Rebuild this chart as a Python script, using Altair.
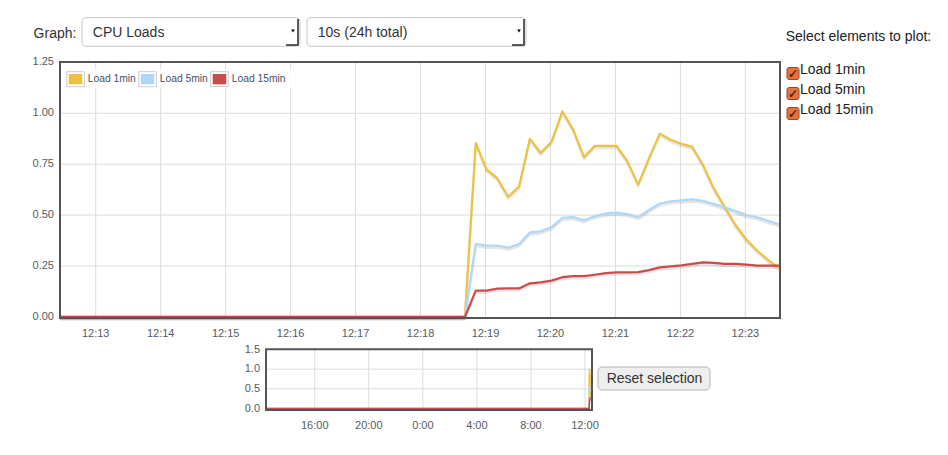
import altair as alt
import pandas as pd

# ---------------- data ----------------
series_names = ["Load 1min", "Load 5min", "Load 15min"]
series_colors = ["#edc240", "#afd8f8", "#cb4b4b"]

# sample times: seconds since local midnight, one sample every 10 s
active_start = 44321          # 12:18:41 (last idle sample)
sample_step = 10
history_start = 44611 - 86400  # start of the 24 h window (idle, all zero)

load_1min = [0, 0.854, 0.725, 0.68, 0.59, 0.64, 0.875, 0.805, 0.86, 1.01,
             0.92, 0.785, 0.84, 0.84, 0.84, 0.765, 0.65, 0.78, 0.90, 0.87,
             0.85, 0.835, 0.745, 0.63, 0.54, 0.45, 0.38, 0.325, 0.28, 0.24]
load_5min = [0, 0.358, 0.35, 0.35, 0.34, 0.358, 0.415, 0.42, 0.44, 0.487,
             0.49, 0.475, 0.495, 0.508, 0.512, 0.505, 0.49, 0.525, 0.557, 0.568,
             0.572, 0.577, 0.57, 0.554, 0.538, 0.52, 0.50, 0.489, 0.472, 0.455]
load_15min = [0, 0.129, 0.129, 0.139, 0.14, 0.14, 0.165, 0.17, 0.178, 0.195,
              0.20, 0.20, 0.207, 0.215, 0.219, 0.219, 0.22, 0.23, 0.243, 0.248,
              0.253, 0.26, 0.268, 0.265, 0.26, 0.26, 0.257, 0.252, 0.252, 0.252]

main_tick_seconds = [43980, 44040, 44100, 44160, 44220, 44280,
                     44340, 44400, 44460, 44520, 44580]
main_tick_labels = ["12:13", "12:14", "12:15", "12:16", "12:17", "12:18",
                    "12:19", "12:20", "12:21", "12:22", "12:23"]
main_y_ticks = [0, 0.25, 0.5, 0.75, 1.0, 1.25]
main_y_labels = ["0.00", "0.25", "0.50", "0.75", "1.00", "1.25"]

ov_tick_seconds = [-28800, -14400, 0, 14400, 28800, 43200]
ov_tick_labels = ["16:00", "20:00", "0:00", "4:00", "8:00", "12:00"]
ov_y_ticks = [0, 0.5, 1.0, 1.5]
ov_y_labels = ["0.0", "0.5", "1.0", "1.5"]

# ---------------- tables ----------------
rows = []
for name, vals in zip(series_names, [load_1min, load_5min, load_15min]):
    rows.append({"series": name, "t": history_start, "v": 0})
    for i, v in enumerate(vals):
        rows.append({"series": name, "t": active_start + sample_step * i, "v": v})
df = pd.DataFrame(rows)

main_xt = pd.DataFrame({"t": main_tick_seconds, "label": main_tick_labels})
main_yt = pd.DataFrame({"v": main_y_ticks, "label": main_y_labels})
ov_xt = pd.DataFrame({"t": ov_tick_seconds, "label": ov_tick_labels})
ov_yt = pd.DataFrame({"v": ov_y_ticks, "label": ov_y_labels})
one = pd.DataFrame({"k": [0]})

FONT = "Liberation Sans"
GRID = "#dcdcdc"
FRAME = "#545454"
TICK = "#555a63"

# ---------------- scales (pixel ranges on one canvas) ----------------
main_x = alt.Scale(domain=[43947, 44612], range=[52, 772], clamp=True, nice=False, zero=False)
main_y = alt.Scale(domain=[0, 1.25], range=[308.9, 54.4], nice=False, zero=False)
ov_x = alt.Scale(domain=[history_start, 44611], range=[258, 582.3], clamp=True, nice=False, zero=False)
ov_y = alt.Scale(domain=[0, 1.5], range=[400.5, 341.5], nice=False, zero=False)


def box(x, x2, y, y2, **kw):
    return alt.Chart(one).mark_rect(**kw).encode(
        x=alt.value(x), x2=alt.value(x2), y=alt.value(y), y2=alt.value(y2))


def label(text, x, y, size=14, color="#333333", align="left", **kw):
    return alt.Chart(one).mark_text(
        text=text, align=align, baseline="middle", font=FONT, fontSize=size,
        color=color, **kw).encode(x=alt.value(x), y=alt.value(y))


def rule(x, x2, y, y2, color, width=1):
    return alt.Chart(one).mark_rule(color=color, strokeWidth=width).encode(
        x=alt.value(x), x2=alt.value(x2), y=alt.value(y), y2=alt.value(y2))


layers = []

# ---------- header controls ----------
layers.append(label("Graph:", 25.6, 25.5))
for bx, bx2, txt in [(74, 292, "CPU Loads"), (299, 518, "10s (24h total)")]:
    layers.append(box(bx, bx2, 9.6, 38.3, fill="white", stroke="#c6c6c6",
                      strokeWidth=1, cornerRadius=4))
    layers.append(label(txt, bx + 10.8, 25.0))
    layers.append(rule(bx2 - 2, bx2 - 2, 11, 37.5, "#5a5a5a", 2))
    layers.append(rule(bx2 - 14, bx2 - 1, 37, 37, "#5a5a5a", 2))
    layers.append(alt.Chart(one).mark_point(shape="triangle-down", filled=True,
                                            size=14, color="black", opacity=1).encode(
        x=alt.value(bx2 - 7), y=alt.value(23)))

# ---------- right panel ----------
layers.append(label("Select elements to plot:", 777.7, 28.7, color="#222222"))
for i, name in enumerate(series_names):
    cy = 65.5 + 20 * i
    layers.append(box(779, 791, cy - 6, cy + 6, fill="#e4733f", stroke="#9b4527",
                      strokeWidth=1, cornerRadius=2))
    layers.append(label("✓", 785, cy, size=12, color="#5c1d08", align="center",
                        fontWeight="bold"))
    layers.append(label(name, 792, 62 + 20 * i, color="#222222"))

# ---------- main plot ----------
layers.append(alt.Chart(main_xt).mark_rule(color=GRID, strokeWidth=1).encode(
    x=alt.X("t:Q", scale=main_x, axis=None), y=alt.value(54), y2=alt.value(310)))
layers.append(alt.Chart(main_yt).transform_filter("datum.v > 0 && datum.v < 1.25").mark_rule(
    color=GRID, strokeWidth=1).encode(
    y=alt.Y("v:Q", scale=main_y, axis=None), x=alt.value(52), x2=alt.value(772)))

for name, col in zip(series_names, series_colors):
    sub = alt.Chart(df).transform_filter(alt.datum.series == name)
    layers.append(sub.mark_line(color="black", opacity=0.1, strokeWidth=2.5, yOffset=2,
                                strokeJoin="round").encode(
        x=alt.X("t:Q", scale=main_x, axis=None), y=alt.Y("v:Q", scale=main_y, axis=None)))
for name, col in zip(series_names, series_colors):
    sub = alt.Chart(df).transform_filter(alt.datum.series == name)
    layers.append(sub.mark_line(color=col, strokeWidth=2.2, strokeJoin="round").encode(
        x=alt.X("t:Q", scale=main_x, axis=None), y=alt.Y("v:Q", scale=main_y, axis=None)))

layers.append(box(52, 772, 54, 310, filled=False, fill=None, stroke=FRAME, strokeWidth=2))

layers.append(alt.Chart(main_yt).mark_text(align="right", baseline="middle", font=FONT,
                                           fontSize=11, color=TICK).encode(
    y=alt.Y("v:Q", scale=main_y, axis=None), x=alt.value(46), text="label:N"))
layers.append(alt.Chart(main_xt).mark_text(align="center", baseline="middle", font=FONT,
                                           fontSize=11, color=TICK).encode(
    x=alt.X("t:Q", scale=main_x, axis=None), y=alt.value(326), text="label:N"))

# legend inside main plot
layers.append(box(56, 285, 61, 80, fill="white", opacity=0.85))
for name, col, ox in zip(series_names, series_colors, [58.7, 130.7, 202.7]):
    layers.append(box(ox, ox + 17.6, 63.7, 78.7, fill="white", stroke="#cccccc", strokeWidth=1))
    layers.append(box(ox + 2, ox + 15.6, 66, 76.3, fill=col))
    layers.append(label(name, ox + 21, 71, size=10.3, color="#43506a"))

# ---------- overview plot ----------
layers.append(alt.Chart(ov_xt).mark_rule(color=GRID, strokeWidth=1).encode(
    x=alt.X("t:Q", scale=ov_x, axis=None), y=alt.value(341), y2=alt.value(402)))
layers.append(alt.Chart(ov_yt).transform_filter("datum.v > 0 && datum.v < 1.5").mark_rule(
    color=GRID, strokeWidth=1).encode(
    y=alt.Y("v:Q", scale=ov_y, axis=None), x=alt.value(258), x2=alt.value(584)))
for name, col in zip(series_names, series_colors):
    sub = alt.Chart(df).transform_filter(alt.datum.series == name)
    layers.append(sub.mark_line(color=col, strokeWidth=1.6).encode(
        x=alt.X("t:Q", scale=ov_x, axis=None), y=alt.Y("v:Q", scale=ov_y, axis=None)))
layers.append(box(258, 584, 341.3, 402, filled=False, fill=None, stroke=FRAME, strokeWidth=2))
layers.append(alt.Chart(ov_yt).mark_text(align="right", baseline="middle", font=FONT,
                                         fontSize=11, color=TICK).encode(
    y=alt.Y("v:Q", scale=ov_y, axis=None), x=alt.value(252), text="label:N"))
layers.append(alt.Chart(ov_xt).mark_text(align="center", baseline="middle", font=FONT,
                                         fontSize=11, color=TICK).encode(
    x=alt.X("t:Q", scale=ov_x, axis=None), y=alt.value(417.7), text="label:N"))

# reset button
layers.append(box(590, 702, 359, 382, fill="#eeeeee", stroke="#b4b4b4", strokeWidth=1,
                  cornerRadius=4))
layers.append(label("Reset selection", 646.5, 370.7, align="center"))

chart = alt.layer(*layers).resolve_scale(x="independent", y="independent").properties(
    width=932, height=439, padding=0,
    autosize=alt.AutoSizeParams(type="none"),
).configure_view(stroke=None)

chart.save("out.html", embed_options={"renderer": "svg", "actions": False})
